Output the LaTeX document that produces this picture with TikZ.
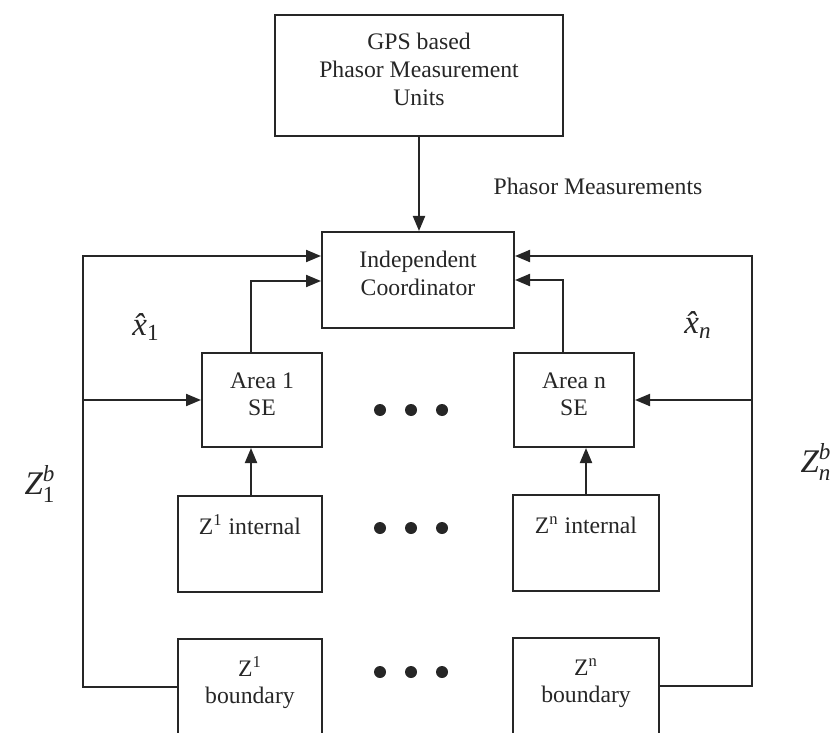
\documentclass[tikz,border=0pt]{standalone}
\usepackage{amsmath}
\usepackage{fontspec}
\setmainfont{Liberation Serif}
\usetikzlibrary{arrows.meta}
\definecolor{ink}{gray}{0.15}
\begin{document}
\begin{tikzpicture}[x=0.5pt,y=-0.5pt, color=ink,
  wire/.style={line width=1pt, line cap=rect},
  arr/.style={wire, -{Triangle[length=7.5pt,width=6pt]}},
  blk/.style={draw, line width=1pt, inner sep=0pt},
  txt/.style={font=\fontsize{11.85}{13.8}\selectfont, align=center, inner sep=0pt},
  intxt/.style={txt, anchor=north},
  lbl/.style={font=\fontsize{16.5}{19}\selectfont, inner sep=0pt},
  dot/.style={circle, fill, inner sep=0pt, minimum size=6pt}]
\useasboundingbox (0,0) rectangle (838,732);
\clip (0,0) rectangle (838,732);

% blocks
\node[blk, minimum width=144pt, minimum height=60.5pt] (gps) at (419,75.5) {};
\node[blk, minimum width=96pt, minimum height=48pt] (coord) at (418,280) {};
\node[blk, minimum width=60pt, minimum height=47pt] (a1) at (262,400) {};
\node[blk, minimum width=60pt, minimum height=47pt] (an) at (574,400) {};
\node[blk, minimum width=72pt, minimum height=48pt] (i1) at (250,544) {};
\node[blk, minimum width=73pt, minimum height=48pt] (in) at (586,543) {};
\node[blk, minimum width=72pt, minimum height=48pt] (b1) at (250,687) {};
\node[blk, minimum width=73pt, minimum height=48pt] (bn) at (586,686) {};

% block texts
\node[intxt] (gpsT) at ([yshift=-9.5pt]gps.north) {GPS based\\Phasor Measurement\\Units};
\node[intxt] (coordT) at ([yshift=-10pt]coord.north) {Independent\\Coordinator};
\node[intxt] (a1T) at ([yshift=-10pt]a1.north) {Area 1\\SE};
\node[intxt] (anT) at ([yshift=-10pt]an.north) {Area n\\SE};
\node[intxt] (i1T) at ([yshift=-9.5pt]i1.north) {Z\textsuperscript{1} internal};
\node[intxt] (inT) at ([yshift=-9.5pt]in.north) {Z\textsuperscript{n\vphantom{1}} internal};
\node[intxt] (b1T) at ([yshift=-9pt]b1.north) {Z\textsuperscript{1}\\boundary};
\node[intxt] (bnT) at ([yshift=-9pt]bn.north) {Z\textsuperscript{n\vphantom{1}}\\boundary};

\node[txt] (pm) at (598,186) {Phasor Measurements};

% ellipsis dots between the two columns
\foreach \r/\y in {1/410, 2/528, 3/672}{
  \node[dot] (d\r a) at (380,\y) {};
  \node[dot] (d\r b) at (411,\y) {};
  \node[dot] (d\r c) at (442,\y) {};
}

% bend points of the connectors
\coordinate (lt) at (83,256);
\coordinate (rt) at (752,256);
\coordinate (a1up) at (251,281);
\coordinate (anup) at (563,280);

% connectors
\draw[arr] (gps.south) -- (coord.north -| gps.south);
\draw[arr] (b1.west) -| (lt) -- (coord.west |- lt);
\draw[arr] (a1.west -| lt) -- (a1.west);
\draw[arr] (a1.north -| a1up) -- (a1up) -- (coord.west |- a1up);
\draw[arr] (i1.north -| a1up) -- (a1.south -| a1up);
\draw[arr] (bn.east) -| (rt) -- (coord.east |- rt);
\draw[arr] (an.east -| rt) -- (an.east);
\draw[arr] (an.north -| anup) -- (anup) -- (coord.east |- anup);
\draw[arr] (in.north) -- (an.south -| in.north);

% signal labels
\node[lbl] (xh1) at (146,327) {$\textit{\^x}_{\text{1}}$};
\node[lbl] (xhn) at (698,325) {$\textit{\^x}_{\textit{n}}$};
\node[lbl] (z1b) at (40,484) {$\textit{Z}^{\textit{b}}_{\text{1}}$};
\node[lbl] (znb) at (816,462) {$\textit{Z}^{\textit{b}}_{\textit{n}}$};
\end{tikzpicture}
\end{document}
